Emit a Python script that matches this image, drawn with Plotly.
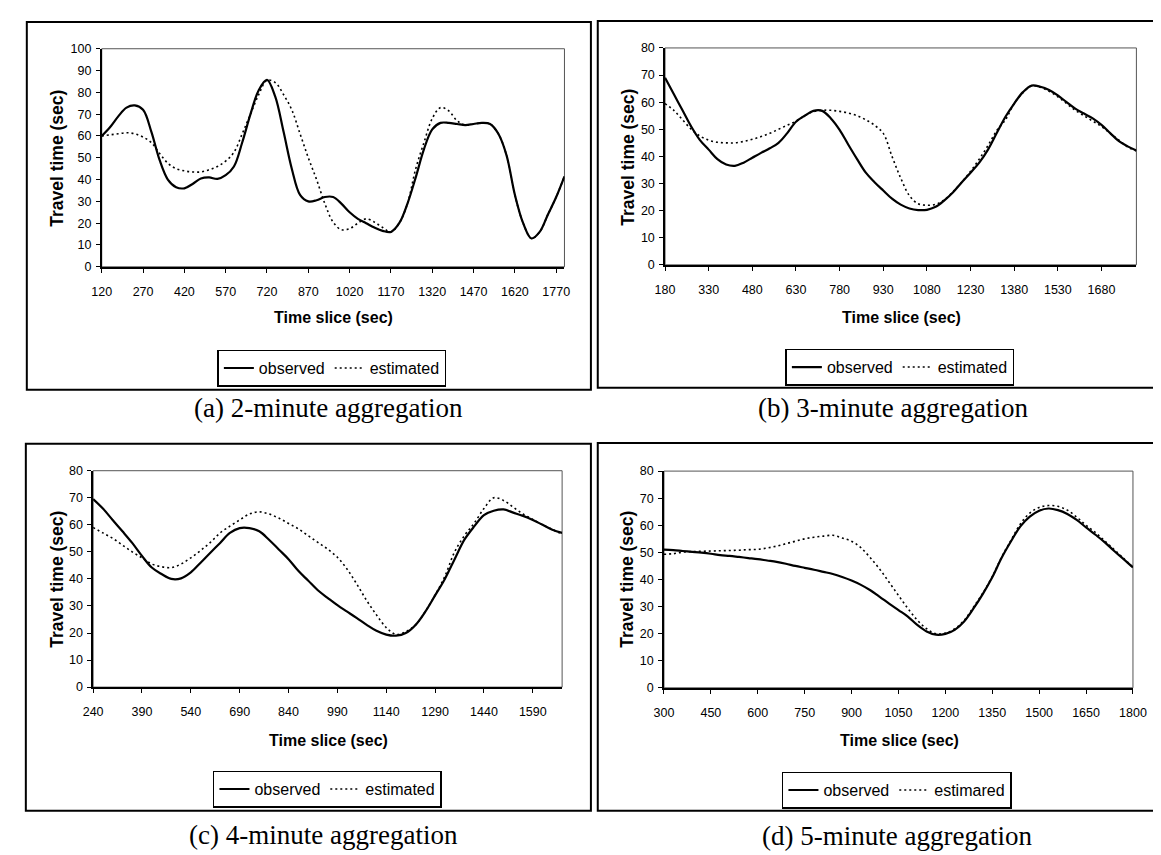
import plotly.graph_objects as go

W, H = 1161, 855

# ---------------- data ----------------
# (a) 2-minute aggregation
time_a = list(range(120, 1801, 30))
observed_a = [60, 64, 69, 73, 74, 72, 62, 49, 40, 36.5,
              36, 38, 40.5, 41, 40.3, 42, 46, 57, 70, 81,
              85.7, 78, 62, 45, 33, 30, 30.5, 32, 32, 29,
              25, 22, 20, 18, 16.5, 16, 20, 29, 41, 54,
              63, 66, 66, 65.5, 65, 65.5, 66, 65.5, 61, 51,
              33, 20, 13, 16, 24, 32, 41.5]
estimated_a = [60, 60.5, 61, 61.5, 61, 59.5, 57, 52, 47.5, 45,
               44, 43.5, 43.5, 44.5, 46, 48.5, 52.5, 61, 70, 79,
               85.5, 84.5, 79, 72, 61, 50, 40, 29, 20.5, 17,
               17.5, 20, 22, 20.5, 18, 16, 20, 29, 45, 57,
               68, 73, 71.5, 67, 65, 65.5, 66, 65.5, 61, 51,
               33, 20, 13, 16, 24, 32, 41.5]

# (b) 3-minute aggregation
time_b = list(range(180, 1801, 30))
observed_b = [69, 63, 57, 51, 46, 42.5, 39, 37, 36.5, 37.7,
              39.5, 41.3, 43, 45, 48.6, 52.8, 55, 56.8, 56.8, 54,
              49.8, 44.3, 39, 34, 30.5, 27.4, 24.4, 22.2, 20.8, 20.2,
              20.3, 21.4, 23.8, 26.8, 30.5, 34, 37.7, 42.5, 48.6, 54.6,
              59.5, 63.7, 66.1, 65.7, 64.5, 62.5, 60, 57.6, 55.8, 54,
              51.6, 48.6, 45.6, 43.7, 42.2]
estimated_b = [59.5, 57, 53.5, 50, 47.5, 46, 45.2, 45, 45, 45.5,
               46.3, 47.3, 48.5, 50, 51.5, 53, 55, 56.5, 57, 57,
               56.6, 56, 55, 53.5, 51.5, 48.5, 40, 32, 25.5, 22.5,
               22, 22.3, 24, 27, 30.5, 34.5, 39, 44, 49.5, 53.5,
               59.5, 63.5, 66, 65.5, 64, 62, 59.5, 57, 55, 53,
               51, 48.5, 46, 43.5, 42]

# (c) 4-minute aggregation
time_c = list(range(240, 1681, 30))
observed_c = [69.5, 66, 61.8, 57.6, 53.3, 48.5, 44.2, 41.8, 40, 40.2,
              42.4, 46, 49.7, 53.3, 57, 58.8, 58.8, 57.6, 54.5, 50.9,
              47.3, 43, 39.4, 35.8, 33, 30.3, 27.9, 25.5, 23, 20.8,
              19.4, 19, 20, 23, 27.9, 33.9, 40, 47.3, 54.5, 59.4,
              63.6, 65.2, 65.7, 64.5, 63.3, 61.8, 60, 58.2, 57]
estimated_c = [59, 57, 55, 52.5, 50, 47.8, 45.5, 44.5, 44.2, 45.5,
               47.8, 50.5, 53.5, 57, 59.5, 61.8, 64, 64.8, 64, 62.5,
               60.5, 58.5, 56, 53.5, 51, 48, 43.6, 38, 32, 26.7,
               22, 19.5, 20.5, 23, 28, 34, 41, 50, 56, 60.6,
               66, 70, 69, 66.5, 64, 62, 60, 58.3, 56.5]

# (d) 5-minute aggregation
time_d = list(range(300, 1801, 30))
observed_d = [51, 50.8, 50.5, 50.2, 49.9, 49.5, 49, 48.7, 48.3, 47.9,
              47.5, 47, 46.5, 45.8, 45, 44.3, 43.6, 42.8, 42, 40.9,
              39.6, 38, 36, 33.6, 31.1, 28.7, 26.3, 23.2, 20.8, 19.6,
              19.9, 21.4, 24.5, 29.3, 34.7, 40.8, 48, 54.1, 59.6, 63.2,
              65.4, 66.2, 65.6, 64.2, 62, 59.2, 56.5, 53.7, 50.5, 47.5,
              44.4]
estimated_d = [49.3, 49.5, 50.1, 50.3, 50.4, 50.5, 50.6, 50.7, 50.8, 51,
               51.1, 51.6, 52.3, 53.2, 54.1, 55, 55.6, 56, 56.3, 55.3,
               54.1, 51.7, 48, 43.8, 39, 34.1, 29.3, 25, 21.8, 19.9,
               20.2, 21.8, 24.9, 29.8, 35, 41, 48.3, 54.5, 60.5, 64.5,
               66.6, 67.3, 67, 65.6, 63, 60, 57.3, 54.2, 51, 47.8,
               44.5]

captions = ["(a) 2-minute aggregation", "(b) 3-minute aggregation",
            "(c) 4-minute aggregation", "(d) 5-minute aggregation"]
est_names = ["estimated", "estimated", "estimated", "estimared"]
y_title = "Travel time (sec)"
x_title = "Time slice (sec)"

# ---------------- layout geometry (pixels) ----------------
panels = [
    dict(t=time_a, o=observed_a, e=estimated_a, xr=(120, 1800), t0=120, yr=(0, 100),
         box=(9, 7, 585, 381), plot=(85.5, 34.3, 558, 256),
         yt=(39, 146), xt=(322, 308), lg=(320.5, 359), cap=(317, 400)),
    dict(t=time_b, o=observed_b, e=estimated_b, xr=(180, 1800), t0=180, yr=(0, 80),
         box=(592, 6, 1160, 379), plot=(660.7, 33.5, 1142, 254),
         yt=(622, 145), xt=(902, 308), lg=(900.5, 358), cap=(893, 400)),
    dict(t=time_c, o=observed_c, e=estimated_c, xr=(240, 1680), t0=240, yr=(0, 80),
         box=(8, 436, 585, 809), plot=(76.7, 463.3, 555.6, 683.3),
         yt=(39, 574), xt=(317, 738), lg=(316, 787), cap=(312, 834)),
    dict(t=time_d, o=observed_d, e=estimated_d, xr=(300, 1800), t0=300, yr=(0, 80),
         box=(592, 435, 1160, 809), plot=(659.6, 463.7, 1138.5, 684),
         yt=(621, 574), xt=(900, 738), lg=(897.5, 788), cap=(898, 835)),
]


def px(x):
    return x / W


def py(y):
    return 1 - y / H


SANS = "Liberation Sans, Arial, sans-serif"
SERIF = "Liberation Serif, Times New Roman, serif"

fig = go.Figure()
layout = dict(width=W, height=H, autosize=False,
              margin=dict(l=0, r=0, t=0, b=0),
              paper_bgcolor="white", plot_bgcolor="white",
              font=dict(family=SANS, color="black", size=12),
              annotations=[], shapes=[])

for i, p in enumerate(panels):
    n = "" if i == 0 else str(i + 1)
    xa, ya = "x" + n, "y" + n
    lgname = "legend" + n
    x0, y0, x1, y1 = p["plot"]
    fig.add_trace(go.Scatter(x=p["t"], y=p["o"], mode="lines", name="observed",
                             line=dict(color="black", width=2.2, shape="spline", smoothing=1.0),
                             xaxis=xa, yaxis=ya, legend=lgname))
    fig.add_trace(go.Scatter(x=p["t"], y=p["e"], mode="lines", name=est_names[i],
                             line=dict(color="black", width=1.6, dash="2px,3px",
                                       shape="spline", smoothing=1.0),
                             xaxis=xa, yaxis=ya, legend=lgname))
    layout["xaxis" + n] = dict(domain=[px(x0), px(x1)], anchor=ya, range=list(p["xr"]),
                               tick0=p["t0"], dtick=150, showgrid=False, zeroline=False,
                               showline=True, linecolor="black", linewidth=1.5,
                               ticks="outside", ticklen=4, tickcolor="black", tickwidth=1,
                               ticklabelstandoff=8,
                               tickfont=dict(family=SANS, size=12.5, color="black"))
    layout["yaxis" + n] = dict(domain=[py(y1), py(y0)], anchor=xa, range=list(p["yr"]),
                               dtick=10, showgrid=False, zeroline=False,
                               showline=True, linecolor="black", linewidth=1.5,
                               ticks="outside", ticklen=4, tickcolor="black", tickwidth=1,
                               ticklabelstandoff=2,
                               tickfont=dict(family=SANS, size=12.5, color="black"))
    cx, cy = p["lg"]
    layout[lgname] = dict(x=px(cx), y=py(cy), xanchor="center", yanchor="middle",
                          orientation="h", bordercolor="black", borderwidth=1.5,
                          bgcolor="white", font=dict(family=SANS, size=16, color="black"),
                          itemwidth=30)
    # plot-area border
    layout["shapes"].append(dict(type="rect", xref="paper", yref="paper",
                                 x0=px(x0), x1=px(x1), y0=py(y1), y1=py(y0),
                                 line=dict(color="#555555", width=1), layer="below"))
    # panel frame
    bx0, by0, bx1, by1 = p["box"]
    layout["shapes"].append(dict(type="rect", xref="paper", yref="paper",
                                 x0=px(bx0), x1=px(bx1), y0=py(by1), y1=py(by0),
                                 line=dict(color="black", width=2)))
    # titles
    tx, ty = p["yt"]
    layout["annotations"].append(dict(text="<b>" + y_title + "</b>", x=px(tx), y=py(ty),
                                      xref="paper", yref="paper", showarrow=False,
                                      textangle=-90, xanchor="center", yanchor="middle",
                                      font=dict(family=SANS, size=17.5, color="black")))
    tx, ty = p["xt"]
    layout["annotations"].append(dict(text="<b>" + x_title + "</b>", x=px(tx), y=py(ty),
                                      xref="paper", yref="paper", showarrow=False,
                                      xanchor="center", yanchor="middle",
                                      font=dict(family=SANS, size=16, color="black")))
    tx, ty = p["cap"]
    layout["annotations"].append(dict(text=captions[i], x=px(tx), y=py(ty),
                                      xref="paper", yref="paper", showarrow=False,
                                      xanchor="center", yanchor="middle",
                                      font=dict(family=SERIF, size=27, color="black")))

fig.update_layout(**layout)
fig.write_html("out.html")
